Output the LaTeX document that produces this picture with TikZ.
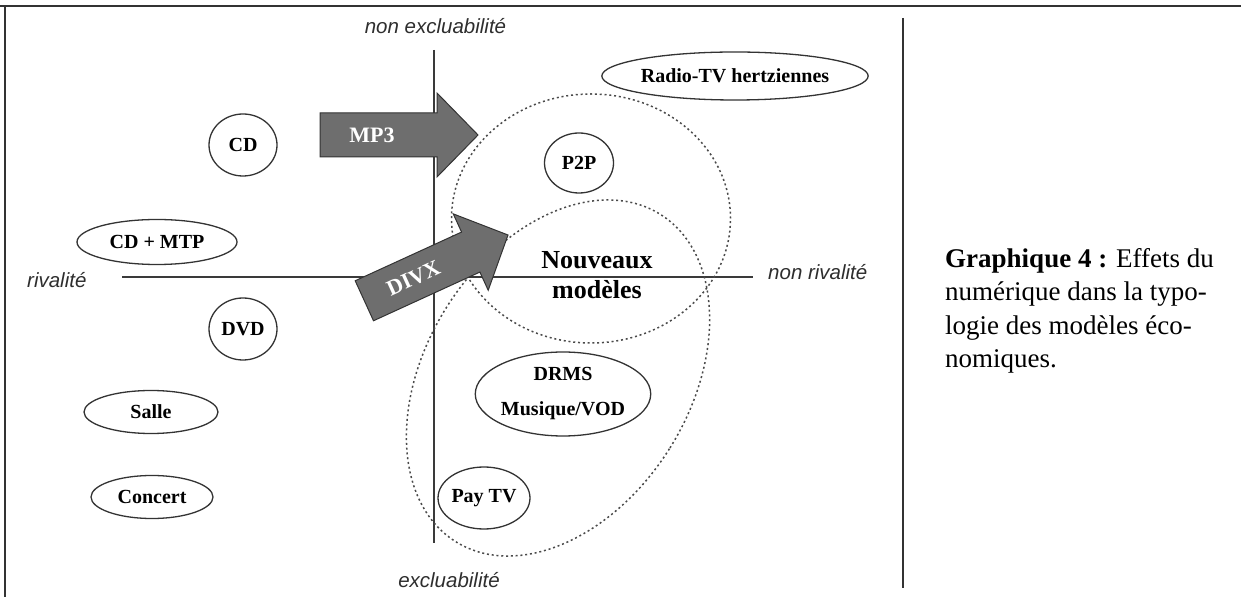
\documentclass[tikz,border=0pt]{standalone}
\usepackage{fontspec}
\setmainfont{Liberation Serif}
\newfontfamily\axisfont{Liberation Sans}
\usetikzlibrary{shapes.geometric}
\definecolor{linegray}{HTML}{333333}
\definecolor{dotgray}{HTML}{4A4A4A}
\definecolor{axisgray}{HTML}{3A3A3A}
\definecolor{labelgray}{HTML}{2E2E2E}
\definecolor{arrowgray}{HTML}{6E6E6E}
\definecolor{arrowedge}{HTML}{333333}
\definecolor{framegray}{HTML}{333333}

\begin{document}
\begin{tikzpicture}[x=1pt,y=1pt,
  item/.style={ellipse, draw=linegray, line width=1.3pt, inner sep=0pt,
    font=\fontsize{20}{22}\selectfont\bfseries},
  dotline/.style={draw=dotgray, line width=1.5pt, dash pattern=on 2pt off 2.8pt},
  axisline/.style={draw=axisgray, line width=1.6pt},
  axislabel/.style={font=\axisfont\itshape\fontsize{20.5}{22}\selectfont, text=labelgray, inner sep=0pt},
  bigarrow/.style={fill=arrowgray, draw=arrowedge, line width=1pt, line join=miter},
  arrowtext/.style={text=white, font=\fontsize{22}{24}\selectfont\bfseries, inner sep=0pt}
]
\useasboundingbox (0,0) rectangle (1241,597);

% frame and separator
\draw[framegray, line width=2pt] (0,591) -- (1241,591);
\draw[framegray, line width=1.6pt] (5,591) -- (5,0);
\draw[framegray, line width=1.6pt] (903,579) -- (903,9);

% axes
\coordinate (vtop) at (434,547);
\coordinate (vbot) at (434,54);
\coordinate (hleft) at (122,320);
\coordinate (hright) at (753,320);
\draw[axisline] (vtop) -- (vbot);
\draw[axisline] (hleft) -- (hright);

\node[axislabel] (nonexcl) at (435.5,571) {non excluabilité};
\node[axislabel] (excl) at (449,17) {excluabilité};
\node[axislabel, anchor=west] (riv) at (27,317) {rivalité};
\node[axislabel, anchor=west] (nonriv) at (768,325) {non rivalité};

% dotted groupings
\draw[dotline] (591,378.5) ellipse [x radius=139.5, y radius=124.5];
\draw[dotline, rotate around={-32:(558,219)}] (558,219) ellipse [x radius=132, y radius=193];

% economic models
\node[item, minimum width=68, minimum height=62] (cd) at (243,452) {CD};
\node[item, minimum width=160, minimum height=45] (cdmtp) at (157,355) {CD + MTP};
\node[item, minimum width=68, minimum height=62] (dvd) at (243,268) {DVD};
\node[item, minimum width=134, minimum height=43] (salle) at (151,185) {Salle};
\node[item, minimum width=122, minimum height=43] (concert) at (152,100) {Concert};
\node[item, minimum width=240, minimum height=48] (radio) at (735,521) {Radio-TV hertziennes};
\node[item, minimum width=69, minimum height=60] (p2p) at (579,434) {P2P};
\node[item, minimum width=171, minimum height=84, align=center,
  font=\fontsize{20}{35}\selectfont\bfseries] (drms) at (563,203) {DRMS\\Musique/VOD};
\node[item, minimum width=92, minimum height=62] (paytv) at (484,99) {Pay TV};
\node[inner sep=0pt, align=center, font=\fontsize{26}{30}\selectfont\bfseries] (nouveaux)
  at (597,322) {Nouveaux\\modèles};

% shift arrows
\begin{scope}[shift={(478,462)}]
  \draw[bigarrow] (-158,22) -- (-41,22) -- (-41,42) -- (0,0) -- (-41,-42) -- (-41,-22) -- (-158,-22) -- cycle;
  \node[arrowtext] (mp3) at (-106,0) {MP3};
\end{scope}
\begin{scope}[shift={(508,362)}, rotate=24.6]
  \draw[bigarrow] (-158,22) -- (-41,22) -- (-41,42) -- (0,0) -- (-41,-42) -- (-41,-22) -- (-158,-22) -- cycle;
  \node[arrowtext, rotate=24.6] (divx) at (-104,0) {DIVX};
\end{scope}

% caption
\node[anchor=north west, align=left, inner sep=0pt, font=\fontsize{27}{33.5}\selectfont] (caption)
  at (945,349) {\textbf{Graphique 4 :} Effets du\\numérique dans la typo-\\logie des modèles éco-\\nomiques.};
\end{tikzpicture}
\end{document}
